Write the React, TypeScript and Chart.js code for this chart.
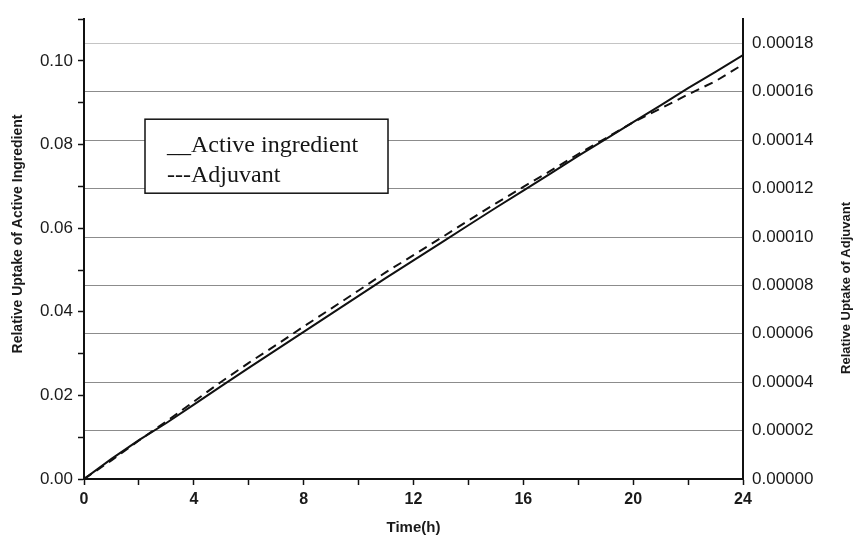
import React, { useEffect, useRef } from "react";
import { Chart, registerables } from "chart.js";

Chart.register(...registerables);

const hours = [0, 1, 2, 3, 4, 5, 6, 7, 8, 9, 10, 11, 12, 13, 14, 15, 16, 17, 18, 19, 20, 21, 22, 23, 24];
const activeIngredient = [
  0, 0.0048, 0.0093, 0.0134, 0.0178, 0.0222, 0.0266, 0.0309, 0.0352, 0.0395, 0.0438, 0.0481, 0.0523,
  0.0565, 0.0607, 0.0649, 0.069, 0.0731, 0.0773, 0.0813, 0.0854, 0.0894, 0.0935, 0.0974, 0.1014,
];
const adjuvant = [
  0, 0.0000077, 0.0000159, 0.0000238, 0.000032, 0.0000402, 0.000048, 0.0000554, 0.000063, 0.0000704,
  0.0000779, 0.0000855, 0.0000925, 0.0000996, 0.0001068, 0.0001139, 0.0001207, 0.0001274, 0.0001343,
  0.0001408, 0.0001474, 0.0001531, 0.0001589, 0.0001644, 0.0001713,
];
const xTickLabels = ["0", "4", "8", "12", "16", "20", "24"];
const leftTickLabels = ["0.00", "0.02", "0.04", "0.06", "0.08", "0.10"];
const rightTickLabels = [
  "0.00000", "0.00002", "0.00004", "0.00006", "0.00008", "0.00010", "0.00012", "0.00014", "0.00016", "0.00018",
];
const legendLabels = ["__Active ingredient", "---Adjuvant"];
const xTitle = "Time(h)";
const leftTitle = "Relative Uptake of Active Ingredient";
const rightTitle = "Relative Uptake of Adjuvant";

const overlayPlugin = {
  id: "overlay",
  afterDraw(chart: any) {
    const ctx = chart.ctx as CanvasRenderingContext2D;
    const area = chart.chartArea;
    ctx.save();
    // legend box
    const bx = area.left + 61;
    const by = area.top + 100;
    ctx.fillStyle = "#ffffff";
    ctx.fillRect(bx, by, 243, 74);
    ctx.strokeStyle = "#111111";
    ctx.lineWidth = 1.5;
    ctx.strokeRect(bx, by, 243, 74);
    ctx.fillStyle = "#151515";
    ctx.font = '24px "Liberation Serif", "Times New Roman", serif';
    ctx.textAlign = "left";
    ctx.textBaseline = "alphabetic";
    ctx.fillText(legendLabels[0], bx + 22, by + 33);
    ctx.fillText(legendLabels[1], bx + 22, by + 63);

    // axis titles
    ctx.fillStyle = "#1a1a1a";
    ctx.textAlign = "center";
    ctx.textBaseline = "middle";
    ctx.font = 'bold 14px "Liberation Sans", Arial, sans-serif';
    ctx.save();
    ctx.translate(18, 234);
    ctx.rotate(-Math.PI / 2);
    ctx.fillText(leftTitle, 0, 0);
    ctx.restore();

    ctx.font = 'bold 13px "Liberation Sans", Arial, sans-serif';
    ctx.save();
    ctx.translate(846, 288);
    ctx.rotate(-Math.PI / 2);
    ctx.fillText(rightTitle, 0, 0);
    ctx.restore();

    ctx.font = 'bold 15px "Liberation Sans", Arial, sans-serif';
    ctx.fillText(xTitle, (area.left + area.right) / 2, 528);
    ctx.restore();
  },
};

export default function App() {
  const canvasRef = useRef<HTMLCanvasElement | null>(null);

  useEffect(() => {
    const canvas = canvasRef.current;
    if (!canvas) return;
    const chart = new Chart(canvas, {
      type: "line",
      data: {
        datasets: [
          {
            label: "Active ingredient",
            data: hours.map((h, i) => ({ x: h, y: activeIngredient[i] })),
            yAxisID: "y",
            borderColor: "#111111",
            borderWidth: 2,
            pointRadius: 0,
            fill: false,
            tension: 0,
          },
          {
            label: "Adjuvant",
            data: hours.map((h, i) => ({ x: h, y: adjuvant[i] })),
            yAxisID: "y1",
            borderColor: "#111111",
            borderWidth: 2,
            borderDash: [9, 6],
            pointRadius: 0,
            fill: false,
            tension: 0,
          },
        ],
      },
      options: {
        animation: false,
        responsive: false,
        devicePixelRatio: 1,
        layout: { padding: { top: 16, left: 0, right: 0, bottom: 0 } },
        plugins: { legend: { display: false }, tooltip: { enabled: false }, title: { display: false } },
        scales: {
          x: {
            type: "linear",
            min: 0,
            max: 24,
            afterFit: (s: any) => {
              s.height = 60;
            },
            ticks: {
              stepSize: 2,
              autoSkip: false,
              maxRotation: 0,
              padding: 5,
              color: "#1a1a1a",
              font: { family: '"Liberation Sans", Arial, sans-serif', size: 16, weight: "bold" },
              callback: (v: any) => (xTickLabels.includes(String(v)) ? String(v) : ""),
            },
            grid: { drawOnChartArea: false, tickLength: 6, tickColor: "#111", tickWidth: 1.5 },
            border: { color: "#111", width: 2 },
          },
          y: {
            type: "linear",
            position: "left",
            min: 0,
            max: 0.11,
            afterFit: (s: any) => {
              s.width = 84;
            },
            ticks: {
              stepSize: 0.01,
              autoSkip: false,
              padding: 5,
              color: "#1a1a1a",
              font: { family: '"Liberation Sans", Arial, sans-serif', size: 17 },
              callback: (v: any) => {
                const t = Number(v).toFixed(2);
                return leftTickLabels.includes(t) ? t : "";
              },
            },
            grid: { drawOnChartArea: false, tickLength: 6, tickColor: "#111", tickWidth: 1.5 },
            border: { color: "#111", width: 2 },
          },
          y1: {
            type: "linear",
            position: "right",
            min: 0,
            max: 0.00019,
            afterFit: (s: any) => {
              s.width = 111;
            },
            afterBuildTicks: (s: any) => {
              s.ticks = s.ticks.filter((t: any) => t.value <= 0.000180001);
            },
            ticks: {
              stepSize: 0.00002,
              autoSkip: false,
              padding: 9,
              color: "#1a1a1a",
              font: { family: '"Liberation Sans", Arial, sans-serif', size: 17 },
              callback: (v: any) => {
                const t = Number(v).toFixed(5);
                return rightTickLabels.includes(t) ? t : "";
              },
            },
            grid: {
              drawOnChartArea: true,
              drawTicks: false,
              lineWidth: 1,
              color: (c: any) => {
                const v = c.tick ? c.tick.value : 0;
                if (v < 0.000001) return "rgba(0,0,0,0)";
                if (v > 0.000179) return "#c4c4c4";
                return "#8c8c8c";
              },
            },
            border: { color: "#111", width: 2 },
          },
        },
      },
      plugins: [overlayPlugin],
    } as any);
    return () => chart.destroy();
  }, []);

  return (
    <div style={{ position: "absolute", left: 0, top: 0, width: 854, height: 539, background: "#fff" }}>
      <canvas ref={canvasRef} width={854} height={539} style={{ width: 854, height: 539, display: "block" }} />
    </div>
  );
}
